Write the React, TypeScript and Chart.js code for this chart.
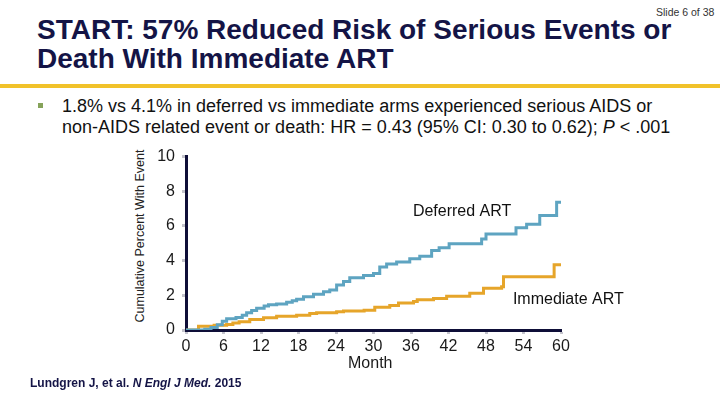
import React, { useEffect, useRef } from "react";
import { Chart, registerables } from "chart.js";

Chart.register(...registerables);

// ---- Data ----
const deferredMonths = [0, 3.0, 4.0, 5.0, 5.8, 6.5, 8.0, 9.0, 9.7, 10.5, 11.3, 12.5, 13.2, 14.5, 16.1, 17.0, 17.7, 18.8, 20.4, 22.0, 23.0, 24.1, 25.2, 26.2, 28.4, 30.0, 31.0, 32.1, 33.7, 35.8, 37.4, 39.3, 40.5, 42.1, 47.3, 48.0, 52.8, 54.5, 56.6, 59.3, 60.6];
const deferredPct = [0, 0.05, 0.15, 0.3, 0.5, 0.65, 0.72, 0.85, 0.99, 1.12, 1.25, 1.38, 1.45, 1.5, 1.6, 1.68, 1.78, 1.92, 2.06, 2.2, 2.31, 2.6, 2.8, 3.01, 3.14, 3.26, 3.64, 3.8, 3.92, 4.11, 4.26, 4.59, 4.75, 4.97, 5.25, 5.53, 5.9, 6.1, 6.61, 7.37, 7.37];

const immediateMonths = [0, 2.0, 4.5, 6.5, 7.5, 8.5, 10.2, 12.4, 14.5, 17.7, 19.8, 20.9, 24.1, 25.2, 28.5, 30.2, 32.6, 34.0, 36.4, 37.0, 39.6, 41.7, 45.4, 47.6, 50.5, 50.8, 58.9, 60.4];
const immediatePct = [0, 0.22, 0.27, 0.32, 0.4, 0.47, 0.6, 0.7, 0.8, 0.85, 0.95, 1.0, 1.05, 1.1, 1.14, 1.31, 1.42, 1.56, 1.65, 1.74, 1.82, 1.95, 2.12, 2.41, 2.5, 3.07, 3.77, 3.77];

const monthTicks = [0, 6, 12, 18, 24, 30, 36, 42, 48, 54, 60];
const percentTicks = [0, 2, 4, 6, 8, 10];

const seriesNames = ["Deferred ART", "Immediate ART"];

const BLUE = "#5ea4c1";
const ORANGE = "#e6a52a";
const NAVY = "#0e0e38";
const TICK_GREY = "#c4c4cc";
const FONT = '"Liberation Sans", Arial, Helvetica, sans-serif';

const curveLabels = {
  id: "curveLabels",
  afterDatasetsDraw(chart: any) {
    const { ctx, scales } = chart;
    const x = scales.x;
    const y = scales.y;
    ctx.save();
    ctx.font = `16px ${FONT}`;
    ctx.fillStyle = "#111111";
    ctx.textAlign = "left";
    ctx.textBaseline = "alphabetic";
    ctx.fillText(chart.data.datasets[0].label, x.getPixelForValue(36.3), y.getPixelForValue(6.57));
    ctx.fillText(chart.data.datasets[1].label, x.getPixelForValue(52.3), y.getPixelForValue(1.5));
    ctx.restore();
  },
};

function ChartBox() {
  const ref = useRef<HTMLCanvasElement>(null);
  useEffect(() => {
    if (!ref.current) return;
    Chart.defaults.font.family = FONT;
    const tickFont = { size: 16, family: FONT };
    const chart = new Chart(ref.current, {
      type: "line",
      data: {
        datasets: [
          {
            label: seriesNames[0],
            data: deferredMonths.map((m, i) => ({ x: m, y: deferredPct[i] })),
            borderColor: BLUE,
            backgroundColor: BLUE,
            borderWidth: 3,
            stepped: true,
            pointRadius: 0,
            fill: false,
          },
          {
            label: seriesNames[1],
            data: immediateMonths.map((m, i) => ({ x: m, y: immediatePct[i] })),
            borderColor: ORANGE,
            backgroundColor: ORANGE,
            borderWidth: 3,
            stepped: true,
            pointRadius: 0,
            fill: false,
          },
        ],
      },
      options: {
        animation: false,
        responsive: false,
        maintainAspectRatio: false,
        layout: { padding: { left: 0, top: 15, right: 89, bottom: 0 } },
        plugins: { legend: { display: false }, tooltip: { enabled: false } },
        scales: {
          x: {
            type: "linear",
            min: 0,
            max: 60,
            afterBuildTicks: (axis: any) => {
              axis.ticks = monthTicks.map((v) => ({ value: v }));
            },
            afterFit: (axis: any) => {
              axis.height = 50;
            },
            ticks: { font: tickFont, color: "#1a1a1a", padding: 3, maxRotation: 0, autoSkip: false },
            grid: {
              display: true,
              drawOnChartArea: false,
              drawTicks: true,
              tickLength: 4,
              tickWidth: 3,
              tickColor: TICK_GREY,
            },
            border: { display: true, color: NAVY, width: 3 },
          },
          y: {
            type: "linear",
            min: 0,
            max: 10,
            afterBuildTicks: (axis: any) => {
              axis.ticks = percentTicks.map((v) => ({ value: v }));
            },
            afterFit: (axis: any) => {
              axis.width = 56;
            },
            ticks: { font: tickFont, color: "#1a1a1a", padding: 7 },
            grid: {
              display: true,
              drawOnChartArea: false,
              drawTicks: true,
              tickLength: 4,
              tickWidth: 3,
              tickColor: TICK_GREY,
            },
            border: { display: true, color: NAVY, width: 3 },
          },
        },
      },
      plugins: [curveLabels],
    } as any);
    return () => chart.destroy();
  }, []);
  return (
    <canvas
      ref={ref}
      width={520}
      height={240}
      style={{ position: "absolute", left: 130, top: 140, width: 520, height: 240 }}
    />
  );
}

export default function App() {
  return (
    <div
      style={{
        position: "fixed",
        left: 0,
        top: 0,
        width: 720,
        height: 405,
        overflow: "hidden",
        background: "#ffffff",
        fontFamily: FONT,
      }}
    >
      <div
        style={{
          position: "absolute",
          left: 656,
          top: 7,
          fontSize: 10.5,
          lineHeight: "10.5px",
          color: "#333333",
          whiteSpace: "nowrap",
        }}
      >
        Slide 6 of 38
      </div>
      <div
        style={{
          position: "absolute",
          left: 37,
          top: 16,
          fontSize: 28,
          lineHeight: "28.5px",
          fontWeight: 700,
          color: "#141446",
          whiteSpace: "nowrap",
        }}
      >
        START: 57% Reduced Risk of Serious Events or
        <br />
        Death With Immediate ART
      </div>
      <div
        style={{
          position: "absolute",
          left: 0,
          top: 84,
          width: 720,
          height: 4,
          background: "#f1c22a",
        }}
      />
      <div
        style={{
          position: "absolute",
          left: 38,
          top: 103,
          width: 5,
          height: 5,
          background: "#86a35a",
        }}
      />
      <div
        style={{
          position: "absolute",
          left: 62,
          top: 96,
          fontSize: 18,
          lineHeight: "21px",
          color: "#111111",
          whiteSpace: "nowrap",
        }}
      >
        1.8% vs 4.1% in deferred vs immediate arms experienced serious AIDS or
        <br />
        non-AIDS related event or death: HR = 0.43 (95% CI: 0.30 to 0.62); <i>P</i> &lt; .001
      </div>
      <div
        style={{
          position: "absolute",
          left: 40,
          top: 229,
          width: 200,
          height: 14,
          lineHeight: "14px",
          fontSize: 12.5,
          textAlign: "center",
          color: "#222222",
          transform: "rotate(-90deg)",
          transformOrigin: "100px 7px",
          whiteSpace: "nowrap",
        }}
      >
        Cumulative Percent With Event
      </div>
      <ChartBox />
      <div
        style={{
          position: "absolute",
          left: 348,
          top: 354.5,
          fontSize: 16,
          lineHeight: "16px",
          color: "#1a1a1a",
          whiteSpace: "nowrap",
        }}
      >
        Month
      </div>
      <div
        style={{
          position: "absolute",
          left: 30,
          top: 377,
          fontSize: 12,
          lineHeight: "12px",
          fontWeight: 700,
          color: "#141446",
          whiteSpace: "nowrap",
        }}
      >
        Lundgren J, et al. <i>N Engl J Med.</i> 2015
      </div>
    </div>
  );
}
